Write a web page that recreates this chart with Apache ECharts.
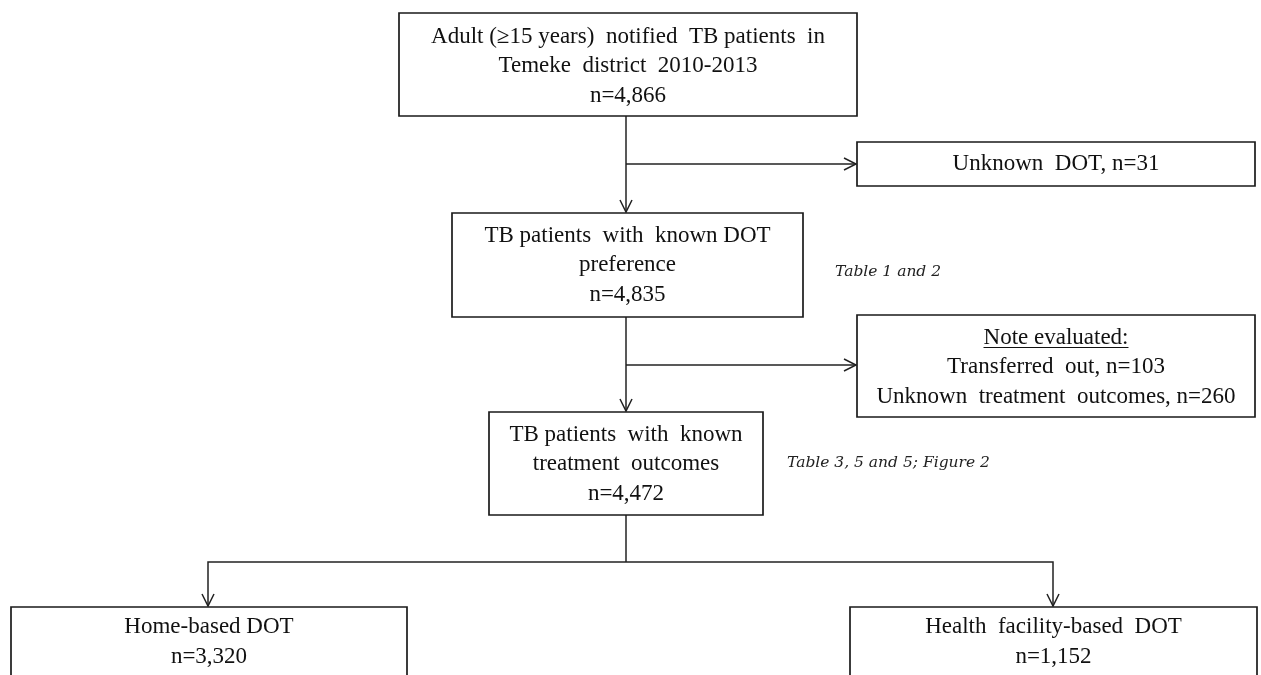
<!DOCTYPE html>
<html><head><meta charset="utf-8">
<script src="https://cdn.jsdelivr.net/npm/echarts@6/dist/echarts.min.js"></script>
<style>html,body{margin:0;padding:0;background:#fff}#c{width:1261px;height:675px}</style>
</head><body><div id="c"></div>
<script>
// ---- content ----
const stageLabels = [
  'Adult (\u226515 years)  notified  TB patients  in\nTemeke  district  2010-2013',
  'TB patients  with  known DOT\npreference',
  'TB patients  with  known\ntreatment  outcomes',
  'Home-based DOT',
  'Health  facility-based  DOT'
];
const stageCounts = [4866, 4835, 4472, 3320, 1152];
const exclusionHeader = 'Note evaluated:';
const exclusionLabels = ['Unknown  DOT', 'Transferred  out', 'Unknown  treatment  outcomes'];
const exclusionCounts = [31, 103, 260];
const annotations = ['Table 1 and 2', 'Table 3, 5 and 5; Figure 2'];

// ---- layout (pixel space of the diagram) ----
const stageRects = [[399,13,857,116],[452,213,803,317],[489,412,763,515],[11,607,407,700],[850,607,1257,700]];
const stageTextCY = [66, 265, 464, 642, 642];
const exclusionRects = [[857,142,1255,186],[857,315,1255,417]];
const exclusionTextCY = [164, 367];
const annotationPos = [[835,272],[787,463]];
const connectors = [
  {pts:[[626,116],[626,212]], arrow:true},
  {pts:[[626,164],[856,164]], arrow:true},
  {pts:[[626,317],[626,411]], arrow:true},
  {pts:[[626,365],[856,365]], arrow:true},
  {pts:[[626,515],[626,562]], arrow:false},
  {pts:[[626,562],[208,562],[208,606]], arrow:true},
  {pts:[[626,562],[1053,562],[1053,606]], arrow:true}
];

const FONT = '23px "Liberation Serif", "DejaVu Serif", serif';
const IFONT = 'italic 15.5px "DejaVu Serif", serif';
const LH = 30;
const fmt = v => 'n=' + v.toLocaleString('en-US');

// Build box list from data
const boxes = [];
stageLabels.forEach((lab, i) => {
  boxes.push({rect: stageRects[i], cy: stageTextCY[i], lines: lab.split('\n').concat([fmt(stageCounts[i])]), underline: -1});
});
boxes.push({rect: exclusionRects[0], cy: exclusionTextCY[0], lines: [exclusionLabels[0] + ', ' + fmt(exclusionCounts[0])], underline: -1});
boxes.push({rect: exclusionRects[1], cy: exclusionTextCY[1], lines: [exclusionHeader, exclusionLabels[1] + ', ' + fmt(exclusionCounts[1]), exclusionLabels[2] + ', ' + fmt(exclusionCounts[2])], underline: 0});

const mctx = document.createElement('canvas').getContext('2d');
mctx.font = FONT;

function boxItem(params, api) {
  const b = boxes[params.dataIndex];
  const p0 = api.coord([b.rect[0], b.rect[1]]);
  const p1 = api.coord([b.rect[2], b.rect[3]]);
  const cx = (p0[0] + p1[0]) / 2;
  const cy = api.coord([0, b.cy])[1];
  const n = b.lines.length;
  const lh = n === 3 ? LH - 0.5 : LH;
  const children = [{
    type: 'rect',
    shape: {x: p0[0], y: p0[1], width: p1[0] - p0[0], height: p1[1] - p0[1]},
    style: {fill: '#fff', stroke: '#1a1a1a', lineWidth: 1.7}
  }];
  b.lines.forEach((t, i) => {
    const y = cy + (i - (n - 1) / 2) * lh;
    children.push({type: 'text', style: {text: t, x: cx, y: y, align: 'center', verticalAlign: 'middle', font: FONT, fill: '#111'}});
    if (i === b.underline) {
      const w = mctx.measureText(t).width;
      children.push({type: 'line', shape: {x1: cx - w / 2, y1: y + 10, x2: cx + w / 2, y2: y + 10}, style: {stroke: '#111', lineWidth: 1.2}});
    }
  });
  return {type: 'group', children};
}

function connItem(params, api) {
  const c = connectors[params.dataIndex];
  const pts = c.pts.map(p => api.coord(p));
  const children = [{type: 'polyline', shape: {points: pts}, style: {stroke: '#222', lineWidth: 1.5, fill: null}}];
  if (c.arrow) {
    const a = pts[pts.length - 1], b = pts[pts.length - 2];
    const dx = a[0] - b[0], dy = a[1] - b[1];
    const L = Math.hypot(dx, dy), ux = dx / L, uy = dy / L;
    const len = 12, hw = 6;
    const bx = a[0] - ux * len, by = a[1] - uy * len;
    children.push({type: 'polyline', shape: {points: [[bx - uy * hw, by + ux * hw], a, [bx + uy * hw, by - ux * hw]]}, style: {stroke: '#222', lineWidth: 1.5, fill: null}});
  }
  return {type: 'group', children};
}

function annItem(params, api) {
  const p = api.coord(annotationPos[params.dataIndex]);
  return {type: 'text', style: {text: annotations[params.dataIndex], x: p[0], y: p[1], align: 'left', verticalAlign: 'middle', font: IFONT, fill: '#222'}};
}

const chart = echarts.init(document.getElementById('c'), null, {renderer: 'canvas'});
chart.setOption({
  animation: false,
  backgroundColor: '#fff',
  grid: {left: 0, right: 0, top: 0, bottom: 0},
  xAxis: {type: 'value', min: 0, max: 1261, show: false},
  yAxis: {type: 'value', min: 0, max: 675, inverse: true, show: false},
  series: [
    {type: 'custom', renderItem: connItem, clip: false, data: connectors.map(c => [c.pts[0][0], c.pts[0][1]]), z: 1, silent: true},
    {type: 'custom', renderItem: boxItem, clip: false, data: boxes.map(b => [b.rect[0], b.rect[1]]), z: 2, silent: true},
    {type: 'custom', renderItem: annItem, clip: false, data: annotationPos.map(p => p.slice()), z: 3, silent: true}
  ]
});
</script></body></html>
